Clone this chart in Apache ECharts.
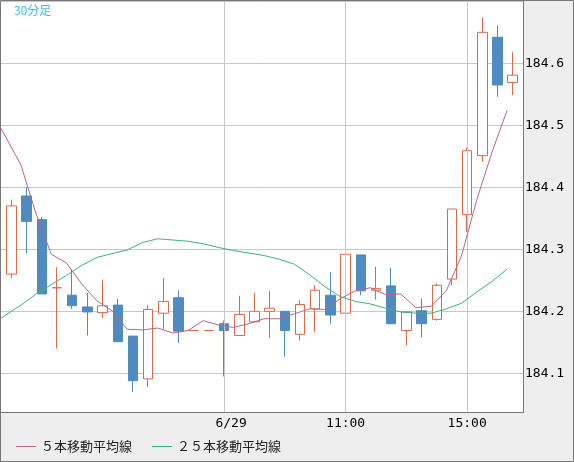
<!DOCTYPE html>
<html>
<head>
<meta charset="utf-8">
<script src="https://cdn.jsdelivr.net/npm/echarts@6/dist/echarts.min.js"></script>
<style>
html,body{margin:0;padding:0;background:#eeeeee;}
#chart{width:574px;height:462px;}
</style>
</head>
<body>
<div id="chart"></div>
<script>
// 30-minute candles (6/29)
const categories = ['00:00','00:30','01:00','01:30','02:00','02:30','03:00','03:30','04:00','04:30',
  '05:00','05:30','06:00','06:30','07:00','07:30','08:00','08:30','09:00','09:30',
  '10:00','10:30','11:00','11:30','12:00','12:30','13:00','13:30','14:00','14:30',
  '15:00','15:30','16:00','16:30'];
const tickCategories = ['07:00','11:00','15:00'];
const tickTexts = ['6/29','11:00','15:00'];

const opens  = [184.260,184.386,184.348,184.238,184.226,184.207,184.198,184.210,184.160,184.091,
  184.197,184.222,184.169,184.169,184.180,184.161,184.183,184.200,184.200,184.163,
  184.204,184.226,184.197,184.291,184.234,184.241,184.169,184.201,184.187,184.252,
  184.356,184.451,184.642,184.569];
const closes = [184.370,184.345,184.228,184.238,184.209,184.199,184.209,184.151,184.088,184.203,
  184.216,184.168,184.169,184.169,184.169,184.195,184.200,184.205,184.169,184.211,
  184.234,184.194,184.292,184.233,184.237,184.180,184.199,184.180,184.242,184.365,
  184.459,184.650,184.565,184.581];
const lows   = [184.254,184.294,184.228,184.140,184.204,184.161,184.189,184.151,184.070,184.078,
  184.171,184.149,184.169,184.169,184.095,184.161,184.182,184.157,184.127,184.153,
  184.167,184.180,184.163,184.226,184.219,184.180,184.145,184.158,184.185,184.242,
  184.328,184.441,184.546,184.549];
const highs  = [184.380,184.400,184.352,184.271,184.268,184.230,184.251,184.220,184.160,184.210,
  184.254,184.234,184.169,184.169,184.185,184.225,184.230,184.233,184.200,184.218,
  184.242,184.263,184.298,184.291,184.272,184.270,184.200,184.221,184.245,184.365,
  184.464,184.674,184.661,184.618];

// moving averages, first value belongs to the candle before the visible range
const ma5Values  = [184.525,184.481,184.436,184.357,184.292,184.278,184.244,184.217,184.201,184.171,
  184.170,184.173,184.165,184.169,184.185,184.178,184.174,184.180,184.188,184.188,
  184.196,184.204,184.203,184.220,184.233,184.238,184.227,184.228,184.206,184.208,
  184.233,184.289,184.379,184.456,184.524];
const ma25Values = [184.177,184.194,184.210,184.228,184.243,184.258,184.274,184.287,184.293,184.299,
  184.311,184.317,184.315,184.313,184.309,184.303,184.298,184.294,184.290,184.284,
  184.276,184.259,184.240,184.224,184.216,184.212,184.205,184.199,184.197,184.197,
  184.204,184.213,184.231,184.248,184.268];

const seriesNames = ['５本移動平均線','２５本移動平均線'];
const titleText = '30分足';

// ---- layout / style ----
const Y_MIN = 184.0368, Y_MAX = 184.6997;
const X_MIN = -0.7538, X_MAX = 33.677;
const MA_SHIFT = -0.375;
const UP = '#d9694b', DOWN = '#4f8bbf';
const MA5C = '#b4668f', MA25C = '#3bb47b';
const GRIDC = '#c8c8c8', FRAME = '#777777';
const MONO = 'DejaVu Sans Mono', CJK = 'Noto Sans CJK JP';

const candleData = opens.map((o, i) => [o, closes[i], lows[i], highs[i]]);
const ma5Data = ma5Values.map((v, k) => [k - 1 + MA_SHIFT, v]);
const ma25Data = ma25Values.map((v, k) => [k - 1 + MA_SHIFT, v]);
const vLines = tickCategories.map(c => ({ xAxis: categories.indexOf(c) }));

const chart = echarts.init(document.getElementById('chart'), null, { renderer: 'canvas' });
chart.setOption({
  animation: false,
  backgroundColor: '#eeeeee',
  title: {
    text: titleText, left: 14, top: 4, padding: 0,
    textStyle: { color: '#3cbcef', fontSize: 12, fontWeight: 'normal', fontFamily: CJK }
  },
  legend: {
    data: seriesNames,
    left: 16, top: 440, padding: 0,
    itemWidth: 20, itemHeight: 1, itemGap: 20, icon: 'rect',
    selectedMode: false,
    textStyle: { fontSize: 13, color: '#222', fontFamily: CJK }
  },
  grid: [
    { left: 0, right: 51, top: 1.5, bottom: 49.5, show: true, backgroundColor: '#ffffff', borderWidth: 0 },
    { left: 3.86, right: 53.7, top: 1.5, bottom: 49.5 }
  ],
  xAxis: [
    { type: 'value', gridIndex: 0, min: X_MIN, max: X_MAX, show: false },
    {
      type: 'category', gridIndex: 1, data: categories, boundaryGap: true,
      axisLine: { show: false }, axisTick: { show: false }, splitLine: { show: false },
      axisLabel: {
        interval: (idx, val) => tickCategories.includes(val),
        formatter: (val) => {
          const k = tickCategories.indexOf(val);
          return k === 0 ? '{d|' + tickTexts[k] + '}' : tickTexts[k];
        },
        rich: { d: { padding: [0, 0, 0, 14], fontFamily: MONO, fontSize: 13, color: '#000' } },
        margin: 5, fontFamily: MONO, fontSize: 13, color: '#000'
      }
    }
  ],
  yAxis: [
    {
      type: 'value', gridIndex: 0, position: 'right', min: Y_MIN, max: Y_MAX,
      minInterval: 0.1, maxInterval: 0.1, splitNumber: 6,
      axisLine: { show: false }, axisTick: { show: false },
      splitLine: { show: true, lineStyle: { color: GRIDC, width: 1 } },
      axisLabel: {
        margin: 2, fontFamily: MONO, fontSize: 13, color: '#000',
        showMinLabel: false, showMaxLabel: false,
        formatter: v => v.toFixed(1)
      }
    },
    { type: 'value', gridIndex: 1, min: Y_MIN, max: Y_MAX, show: false, splitLine: { show: false } }
  ],
  graphic: [
    { type: 'line', z: 100, shape: { x1: 523.5, y1: 0, x2: 523.5, y2: 413 }, style: { stroke: FRAME, lineWidth: 1 } },
    { type: 'line', z: 100, shape: { x1: 0, y1: 412.5, x2: 524, y2: 412.5 }, style: { stroke: FRAME, lineWidth: 1 } },
    { type: 'rect', z: 100, shape: { x: 0.5, y: 0.5, width: 573, height: 461 }, style: { fill: 'rgba(0,0,0,0)', stroke: FRAME, lineWidth: 1 } }
  ],
  series: [
    {
      type: 'line', xAxisIndex: 0, yAxisIndex: 0, data: [], z: 1, silent: true,
      markLine: {
        silent: true, symbol: ['none', 'none'], label: { show: false },
        lineStyle: { color: GRIDC, width: 1, type: 'solid' },
        emphasis: { disabled: true },
        data: vLines
      }
    },
    {
      type: 'candlestick', xAxisIndex: 1, yAxisIndex: 1, data: candleData, z: 3,
      barWidth: 10,
      itemStyle: {
        color: '#ffffff', color0: DOWN,
        borderColor: UP, borderColor0: DOWN, borderColorDoji: UP, borderWidth: 1
      }
    },
    {
      name: seriesNames[0], type: 'line', xAxisIndex: 0, yAxisIndex: 0, data: ma5Data, z: 5,
      showSymbol: false, symbol: 'none', clip: true,
      lineStyle: { color: MA5C, width: 1 }, itemStyle: { color: MA5C }
    },
    {
      name: seriesNames[1], type: 'line', xAxisIndex: 0, yAxisIndex: 0, data: ma25Data, z: 5,
      showSymbol: false, symbol: 'none', clip: true,
      lineStyle: { color: MA25C, width: 1 }, itemStyle: { color: MA25C }
    }
  ]
});
</script>
</body>
</html>
